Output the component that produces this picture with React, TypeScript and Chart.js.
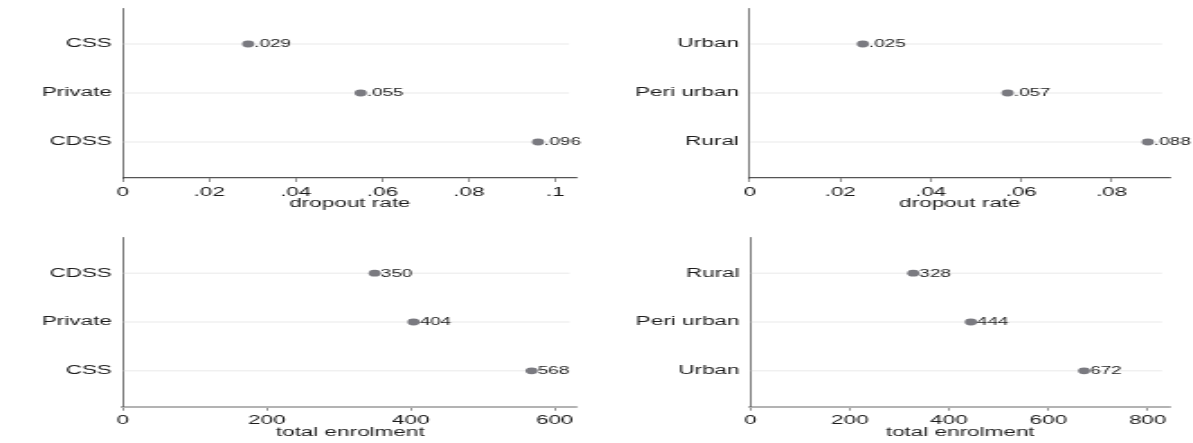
import React, { useEffect, useRef } from 'react';
import { Chart, registerables } from 'chart.js';

Chart.register(...registerables);

// ---- data ----
const sectorCategories = ['CSS', 'Private', 'CDSS'];
const sectorDropout = [0.029, 0.055, 0.096];
const locationCategories = ['Urban', 'Peri urban', 'Rural'];
const locationDropout = [0.025, 0.057, 0.088];
const sectorEnrolCategories = ['CDSS', 'Private', 'CSS'];
const sectorEnrolment = [350, 404, 568];
const locationEnrolCategories = ['Rural', 'Peri urban', 'Urban'];
const locationEnrolment = [328, 444, 672];
const dropoutTicksSector = [0, 0.02, 0.04, 0.06, 0.08, 0.1];
const dropoutTicksLocation = [0, 0.02, 0.04, 0.06, 0.08];
const enrolTicksSector = [0, 200, 400, 600];
const enrolTicksLocation = [0, 200, 400, 600, 800];
const rowTicks = [0, 1, 2];

const FONT = '"Liberation Sans", Arial, Helvetica, sans-serif';
const TEXT = '#1c1c1c';
const DARK = '#555555';

type PanelProps = {
  left: number; top: number; dispW: number; intW: number; height: number;
  axisX: number; axisEnd: number; plotTop: number; axisY: number;
  xMax: number; xTicks: number[]; cats: string[]; vals: number[];
  title: string; lightAxis: boolean;
};

function fmt(v: number): string {
  if (v === 0) return '0';
  if (Math.abs(v) < 1) return String(v).replace(/^0\./, '.');
  return String(v);
}
function fmtVal(v: number): string {
  if (Math.abs(v) < 1) return v.toFixed(3).replace(/^0\./, '.');
  return String(v);
}

function Panel(p: PanelProps) {
  const ref = useRef<HTMLCanvasElement | null>(null);
  useEffect(() => {
    if (!ref.current) return;
    const sx = p.dispW / p.intW;
    const yw = (p.axisX - p.left) / sx;
    const padRight = (p.left + p.dispW - p.axisEnd) / sx;
    const padTop = p.plotTop - p.top;
    const xh = 32;
    const padBottom = p.top + p.height - p.axisY - xh;

    const gridPlugin = {
      id: 'rowgrid',
      beforeDatasetsDraw(chart: any) {
        const { ctx, chartArea } = chart;
        const ys = chart.scales.y;
        ctx.save();
        ctx.strokeStyle = '#e9e9e9';
        ctx.lineWidth = 1;
        rowTicks.forEach((v) => {
          const y = ys.getPixelForValue(v);
          ctx.beginPath();
          ctx.moveTo(chartArea.left + 0.5, y);
          ctx.lineTo(chartArea.right - 8 / sx, y);
          ctx.stroke();
        });
        ctx.restore();
      },
    };
    const labelPlugin = {
      id: 'vallabels',
      afterDatasetsDraw(chart: any) {
        const { ctx } = chart;
        const meta = chart.getDatasetMeta(0);
        ctx.save();
        ctx.font = `10.5px ${FONT}`;
        ctx.fillStyle = TEXT;
        ctx.textAlign = 'left';
        ctx.textBaseline = 'middle';
        meta.data.forEach((el: any, i: number) => {
          ctx.fillText(fmtVal(p.vals[i]), el.x + 3.4, el.y + 0.5);
        });
        ctx.restore();
      },
    };

    const chart = new Chart(ref.current, {
      type: 'scatter',
      data: {
        datasets: [
          {
            data: p.vals.map((v, i) => ({ x: v, y: i })),
            backgroundColor: '#7a7a80',
            borderWidth: 0,
            pointRadius: 3.4,
            pointHoverRadius: 3.4,
          },
        ],
      },
      plugins: [gridPlugin, labelPlugin],
      options: {
        animation: false,
        responsive: false,
        devicePixelRatio: 1,
        layout: { padding: { left: 0, right: padRight, top: padTop, bottom: padBottom } },
        plugins: { legend: { display: false }, tooltip: { enabled: false } },
        events: [],
        scales: {
          x: {
            type: 'linear',
            position: 'bottom',
            min: 0,
            max: p.xMax,
            afterBuildTicks: (scale: any) => {
              scale.ticks = p.xTicks.map((v) => ({ value: v }));
            },
            afterFit: (scale: any) => {
              scale.height = xh;
              scale.paddingLeft = 0;
              scale.paddingRight = 0;
            },
            ticks: {
              callback: (v: any) => fmt(Number(v)),
              font: { family: FONT, size: 12.5, lineHeight: 1 },
              color: TEXT,
              padding: 4,
              maxRotation: 0,
              autoSkip: false,
            },
            grid: {
              display: true,
              drawOnChartArea: false,
              drawTicks: true,
              tickLength: 4,
              color: DARK,
              lineWidth: 0.65,
            },
            border: {
              display: true,
              color: p.lightAxis ? '#b3b3b3' : DARK,
              width: p.lightAxis ? 2 : 1.2,
            },
            title: {
              display: true,
              text: p.title,
              color: TEXT,
              font: { family: FONT, size: 12.5, lineHeight: 1 },
              padding: { top: 0, bottom: 0 },
            },
          },
          y: {
            type: 'linear',
            position: 'left',
            reverse: true,
            min: -0.735,
            max: 2.735,
            afterBuildTicks: (scale: any) => {
              scale.ticks = rowTicks.map((v) => ({ value: v }));
            },
            afterFit: (scale: any) => {
              scale.width = yw;
              scale.paddingTop = 0;
              scale.paddingBottom = 0;
            },
            ticks: {
              callback: (v: any) => p.cats[Math.round(Number(v))] ?? '',
              font: { family: FONT, size: 12.5 },
              color: TEXT,
              padding: 6,
              autoSkip: false,
            },
            grid: { display: false, drawTicks: false },
            border: { display: true, color: '#4d4d4d', width: 0.75 },
          },
        },
      } as any,
    });
    return () => chart.destroy();
  }, []);

  return (
    <canvas
      ref={ref}
      width={p.intW}
      height={p.height}
      style={{
        position: 'absolute',
        left: p.left,
        top: p.top,
        width: p.dispW,
        height: p.height,
      }}
    />
  );
}

export default function App() {
  return (
    <div
      style={{
        position: 'absolute',
        left: 0,
        top: 0,
        width: 1193,
        height: 443,
        background: '#ffffff',
        overflow: 'hidden',
      }}
    >
      <Panel
        left={0} top={0} dispW={594} intW={330} height={220}
        axisX={122.7} axisEnd={577} plotTop={8} axisY={178}
        xMax={0.105} xTicks={dropoutTicksSector}
        cats={sectorCategories} vals={sectorDropout}
        title="dropout rate" lightAxis={false}
      />
      <Panel
        left={595} top={0} dispW={598} intW={332} height={220}
        axisX={749.7} axisEnd={1170} plotTop={8} axisY={178}
        xMax={0.0929} xTicks={dropoutTicksLocation}
        cats={locationCategories} vals={locationDropout}
        title="dropout rate" lightAxis={false}
      />
      <Panel
        left={0} top={220} dispW={594} intW={330} height={223}
        axisX={122.7} axisEnd={577.7} plotTop={237.3} axisY={406.7}
        xMax={632} xTicks={enrolTicksSector}
        cats={sectorEnrolCategories} vals={sectorEnrolment}
        title="total enrolment" lightAxis={true}
      />
      <Panel
        left={595} top={220} dispW={598} intW={332} height={223}
        axisX={750.4} axisEnd={1170} plotTop={237.3} axisY={406.7}
        xMax={845} xTicks={enrolTicksLocation}
        cats={locationEnrolCategories} vals={locationEnrolment}
        title="total enrolment" lightAxis={true}
      />
    </div>
  );
}
